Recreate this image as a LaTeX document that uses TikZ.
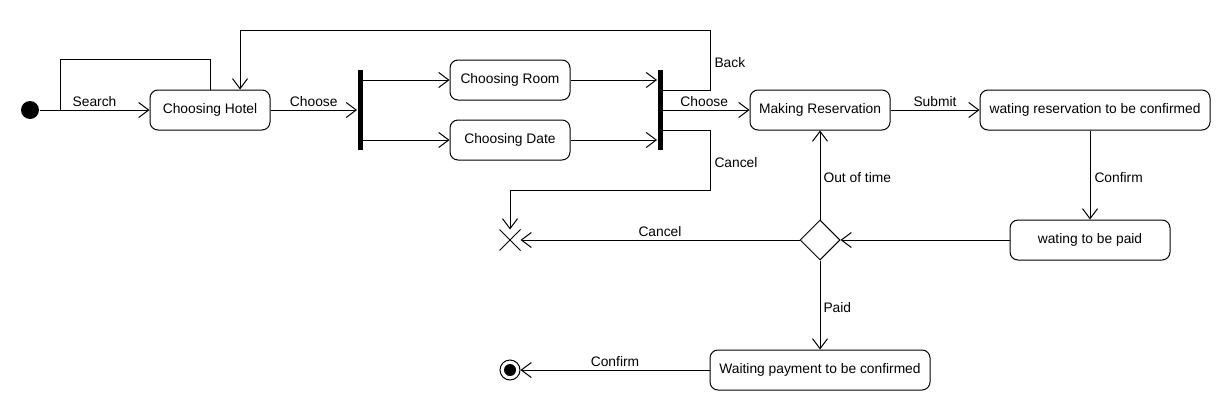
\documentclass[tikz,border=0pt]{standalone}
\usepackage{fontspec}
\setmainfont{Liberation Sans}
\usetikzlibrary{arrows.meta,shapes.geometric,shapes.misc}
\begin{document}
\begin{tikzpicture}[x=1pt,y=-1pt,line width=1pt,
  font=\fontsize{13.8}{16}\selectfont,
  state/.style={draw,rounded corners=8pt,minimum height=40pt,inner sep=0pt},
  bar/.style={fill=black,draw=none,minimum width=5pt,minimum height=80pt,inner sep=0pt},
  arr/.style={-{Straight Barb[length=10pt,width=15pt]}},
  lbl/.style={inner sep=1pt}]
\useasboundingbox (0,0) rectangle (1230,410);
% nodes
\node[circle,fill=black,minimum size=18pt,inner sep=0pt] (init) at (30,110) {};
\node[state,minimum width=120pt] (ch) at (210,110) {Choosing Hotel};
\node[bar] (fork) at (360,110) {};
\node[state,minimum width=120pt] (room) at (510,80) {Choosing Room};
\node[state,minimum width=120pt] (date) at (510,140) {Choosing Date};
\node[bar] (join) at (660,110) {};
\node[state,minimum width=140pt] (mr) at (820,110) {Making Reservation};
\node[state,minimum width=230pt] (wrc) at (1095,110) {wating reservation to be confirmed};
\node[state,minimum width=160pt] (wtp) at (1090,240) {wating to be paid};
\node[diamond,draw,minimum width=40pt,minimum height=40pt,inner sep=0pt] (dec) at (820,240) {};
\node[cross out,draw,minimum size=20pt,inner sep=0pt] (flow) at (510,240) {};
\node[state,minimum width=220pt] (wpc) at (820,370) {Waiting payment to be confirmed};
\node[circle,draw,minimum size=20pt,inner sep=0pt] (final) at (510,370) {};
\fill (final.center) circle (6);
\coordinate (loopend) at (60,110);
% connectors
\draw[arr] (init) -- node[lbl,above=2pt] {Search} (ch);
\draw (ch.north) -- ++(0,-30) -| (loopend);
\draw[arr] (ch.east) -- node[lbl,above=2pt] {Choose} (fork.west);
\draw[arr] (fork.east |- room.west) -- (room.west);
\draw[arr] (fork.east |- date.west) -- (date.west);
\draw[arr] (room.east) -- (room.east -| join.west);
\draw[arr] (date.east) -- (date.east -| join.west);
\draw[arr] ([yshift=20pt]join.east) -- (710,90) -- node[lbl,right=3pt,yshift=-3pt] {Back} (710,30) -| ([xshift=30pt]ch.north);
\draw[arr] (join.east) -- node[lbl,above=2pt,xshift=-2pt] {Choose} (mr.west);
\draw[arr] ([yshift=-20pt]join.east) -- (710,130) -- node[lbl,right=3pt,yshift=-3pt] {Cancel} (710,190) -| (flow.north);
\draw[arr] (mr.east) -- node[lbl,above=2pt] {Submit} (wrc.west);
\draw[arr] ([xshift=-5pt]wrc.south) -- node[lbl,right=3pt,yshift=-3pt] {Confirm} (wtp.north);
\draw[arr] (wtp.west) -- (dec.east);
\draw[arr] (dec.north) -- node[lbl,right=2pt,yshift=-3pt] {Out of time} (mr.south);
\draw[arr] (dec.west) -- node[lbl,above=2pt] {Cancel} (flow.east);
\draw[arr] (dec.south) -- node[lbl,right=2pt,yshift=-3pt] {Paid} (wpc.north);
\draw[arr] (wpc.west) -- node[lbl,above=2pt] {Confirm} (final.east);
\end{tikzpicture}
\end{document}
